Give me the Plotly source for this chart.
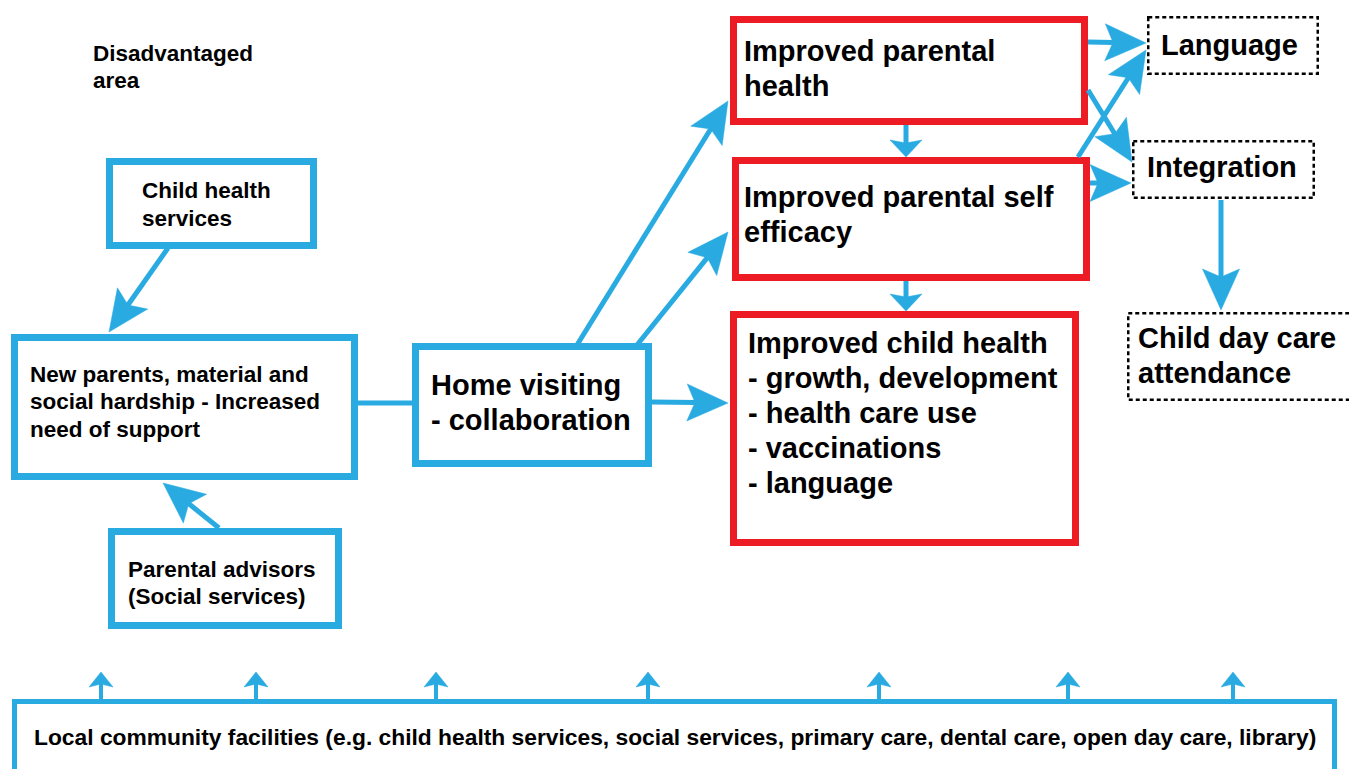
import math
import plotly.graph_objects as go

# ---------------- content ----------------
BLUE = "#29ABE2"
RED = "#ED1C24"
FONT = "Liberation Sans, Arial, sans-serif"

# node texts (one entry per line)
area_lines = ["Disadvantaged", "area"]
services_lines = ["Child health", "services"]
parents_lines = ["New parents, material and", "social hardship - Increased", "need of support"]
home_lines = ["Home visiting", "- collaboration"]
advisors_lines = ["Parental advisors", "(Social services)"]
par_health_lines = ["Improved parental", "health"]
self_eff_lines = ["Improved parental self", "efficacy"]
child_health_lines = ["Improved child health", "- growth, development", "- health care use",
                      "- vaccinations", "- language"]
language_lines = ["Language"]
integration_lines = ["Integration"]
daycare_lines = ["Child day care", "attendance"]
community_lines = ["Local community facilities (e.g. child health services, social services, "
                   "primary care, dental care, open day care, library)"]

# ---------------- geometry (pixel space) ----------------
# boxes: outer edges x0, y0, x1, y1
box_geom = {
    "services": (106, 158, 317, 249),
    "parents": (11, 334, 358, 480),
    "home": (412, 343, 652, 467),
    "advisors": (108, 528, 342, 629),
    "community": (12, 699, 1337, 800),
    "par_health": (730, 16, 1088, 125),
    "self_eff": (732, 157, 1090, 281),
    "child_health": (730, 311, 1079, 546),
    "language": (1147, 16, 1319, 75),
    "integration": (1132, 140, 1315, 199),
    "daycare": (1127, 312, 1365, 401),
}
box_style = {
    "services": ("solid", BLUE, 7), "parents": ("solid", BLUE, 7), "home": ("solid", BLUE, 7),
    "advisors": ("solid", BLUE, 7), "community": ("solid", BLUE, 5),
    "par_health": ("solid", RED, 7), "self_eff": ("solid", RED, 7), "child_health": ("solid", RED, 7),
    "language": ("4px,3px", "black", 2.5), "integration": ("4px,3px", "black", 2.5),
    "daycare": ("4px,3px", "black", 2.5),
}

# text blocks: lines, left x, first line centre y, line step, font size
text_blocks = [
    (area_lines, 91, 53, 27, 22.5),
    (services_lines, 140, 190, 28, 22.5),
    (parents_lines, 28, 374, 27.5, 22.5),
    (home_lines, 429, 385, 35, 29),
    (advisors_lines, 126, 569, 27, 22.5),
    (par_health_lines, 742, 51, 35, 29),
    (self_eff_lines, 742, 197, 35, 29),
    (child_health_lines, 746, 343, 35, 29),
    (language_lines, 1159, 45, 35, 29),
    (integration_lines, 1145, 167, 35, 29),
    (daycare_lines, 1136, 338, 35, 29),
    (community_lines, 32, 737, 27, 22.8),
]

# head shapes: (length, half width, notch depth)
HEAD_BIG = (41, 18.5, 8)
HEAD_FLAT = (17, 16, 3)
HEAD_SMALL = (15, 12, 3)

# arrows: tail (x, y) -> tip (x, y), head shape, stem width
arrows = [
    ((168, 248), (109, 332), HEAD_BIG, 5),
    ((219, 528), (163, 483), HEAD_BIG, 5),
    ((577, 345), (728, 101), HEAD_BIG, 5),
    ((637, 345), (728, 232), HEAD_BIG, 5),
    ((652, 402), (728, 403), HEAD_BIG, 5),
    ((906, 125), (906, 157), HEAD_FLAT, 5),
    ((906, 281), (906, 311), HEAD_FLAT, 5),
    ((1088, 42), (1146, 43), HEAD_BIG, 5),
    ((1078, 157), (1146, 50), HEAD_BIG, 5),
    ((1088, 90), (1132, 162), HEAD_BIG, 5),
    ((1090, 183), (1131, 183), HEAD_BIG, 5),
    ((1221, 200), (1221, 310), HEAD_BIG, 5),
]
# arrows up from the community box
up_x = [101, 256, 436, 648, 879, 1068, 1233]
up_tail_y = 700
up_tip_y = 672
for ux in up_x:
    arrows.append(((ux, up_tail_y), (ux, up_tip_y), HEAD_SMALL, 4))

# plain connector without head
connector = ((358, 403), (412, 403))

# ---------------- build ----------------
fig = go.Figure()
shapes = []
for key, (x0, y0, x1, y1) in box_geom.items():
    dash, col, lw = box_style[key]
    h = lw / 2
    shapes.append(dict(type="rect", xref="x", yref="y", x0=x0 + h, y0=y0 + h, x1=x1 - h, y1=y1 - h,
                       line=dict(color=col, width=lw, dash=dash), fillcolor="rgba(0,0,0,0)", layer="above"))
(cx0, cy0), (cx1, cy1) = connector
shapes.append(dict(type="line", xref="x", yref="y", x0=cx0, y0=cy0, x1=cx1, y1=cy1,
                   line=dict(color=BLUE, width=5)))

for (tx, ty), (hx, hy), (L, W, n), sw in arrows:
    d = math.hypot(hx - tx, hy - ty)
    ux, uy = (hx - tx) / d, (hy - ty) / d
    px, py = -uy, ux
    bx, by = hx - L * ux, hy - L * uy
    nx, ny = hx - (L - n) * ux, hy - (L - n) * uy
    # stem
    shapes.append(dict(type="line", xref="x", yref="y", x0=tx, y0=ty, x1=nx + ux, y1=ny + uy,
                       line=dict(color=BLUE, width=sw)))
    # head
    path = (f"M {hx:.2f},{hy:.2f} L {bx + W * px:.2f},{by + W * py:.2f} "
            f"L {nx:.2f},{ny:.2f} L {bx - W * px:.2f},{by - W * py:.2f} Z")
    shapes.append(dict(type="path", xref="x", yref="y", path=path, fillcolor=BLUE,
                       line=dict(color=BLUE, width=0.5)))

annotations = []
for lines, x, y, step, size in text_blocks:
    for i, line in enumerate(lines):
        annotations.append(dict(x=x, y=y + i * step, xref="x", yref="y", text="<b>" + line + "</b>",
                                showarrow=False, xanchor="left", yanchor="middle",
                                font=dict(family=FONT, size=size, color="black")))

fig.update_layout(
    width=1349, height=769, margin=dict(l=0, r=0, t=0, b=0),
    paper_bgcolor="white", plot_bgcolor="white",
    xaxis=dict(range=[0, 1349], visible=False, fixedrange=True),
    yaxis=dict(range=[769, 0], visible=False, fixedrange=True),
    shapes=shapes, annotations=annotations, showlegend=False,
)
fig.write_html("out.html", config={"displayModeBar": False, "staticPlot": True},
               post_script="document.body.style.margin='0';document.body.style.overflow='hidden';")
